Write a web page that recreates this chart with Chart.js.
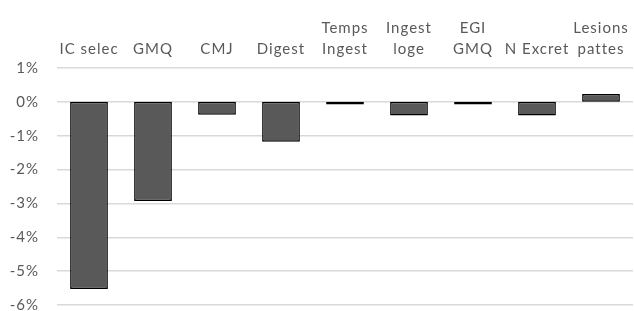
<!DOCTYPE html>
<html lang="en">
<head>
    <meta charset="UTF-8">
    <title>Ecarts relatifs</title>
    <script src="https://cdn.jsdelivr.net/npm/chart.js"></script>
    <style>
        body {
            margin: 0;
            background-color: #ffffff;
        }
        canvas {
            display: block;
        }
    </style>
</head>
<body>
    <canvas id="ecartChart" width="634" height="311"></canvas>

    <script>
        // Categories (multi-line labels, last line sits next to the axis)
        const categories = [
            'IC selec',
            'GMQ',
            'CMJ',
            'Digest',
            ['Temps', 'Ingest'],
            ['Ingest', 'loge'],
            ['EGI', 'GMQ'],
            'N Excret',
            ['Lesions', 'pattes']
        ];

        // Relative change, in fractions (-0.055 = -5.5%)
        const ecarts = [-0.0553, -0.0293, -0.0038, -0.0118, -0.0008, -0.0040, -0.0008, -0.0040, 0.0023];

        const yMin = -0.06;
        const yMax = 0.01;
        const yStep = 0.01;

        const textGrey = '#595959';
        const labelFont = { family: 'Lato', size: 15, lineHeight: 1.4 };

        // Excel-like loose letter spacing on all the texts
        const letterSpacing = {
            id: 'letterSpacing',
            beforeDraw(chart) {
                chart.ctx.letterSpacing = '1px';
            }
        };

        const ctx = document.getElementById('ecartChart').getContext('2d');

        const ecartChart = new Chart(ctx, {
            type: 'bar',
            data: {
                labels: categories,
                datasets: [{
                    label: 'Ecart',
                    data: ecarts,
                    backgroundColor: '#595959',
                    borderColor: '#000000',
                    borderWidth: 1.5,
                    borderSkipped: false,
                    categoryPercentage: 1.0,
                    barPercentage: 0.59
                }]
            },
            plugins: [letterSpacing],
            options: {
                responsive: false,
                animation: false,
                layout: {
                    padding: { top: 10, right: 1, bottom: 0, left: 0 }
                },
                plugins: {
                    legend: { display: false },
                    tooltip: { enabled: false }
                },
                scales: {
                    x: {
                        position: 'top',
                        grid: { display: false, drawTicks: false },
                        border: { display: false },
                        ticks: {
                            color: textGrey,
                            autoSkip: false,
                            maxRotation: 0,
                            padding: 8,
                            font: labelFont
                        }
                    },
                    y: {
                        min: yMin,
                        max: yMax,
                        border: { display: false },
                        grid: {
                            color: '#d9d9d9',
                            lineWidth: 1.5,
                            drawTicks: false
                        },
                        ticks: {
                            stepSize: yStep,
                            color: textGrey,
                            padding: 18,
                            font: labelFont,
                            callback: function(value) {
                                return Math.round(value * 100) + '%';
                            }
                        },
                        // tick padding would also eat space below the plot
                        afterFit: function(scale) {
                            scale.width = 57;
                            scale.paddingTop = 0;
                            scale.paddingBottom = 6;
                        }
                    }
                }
            }
        });
    </script>
</body>
</html>
